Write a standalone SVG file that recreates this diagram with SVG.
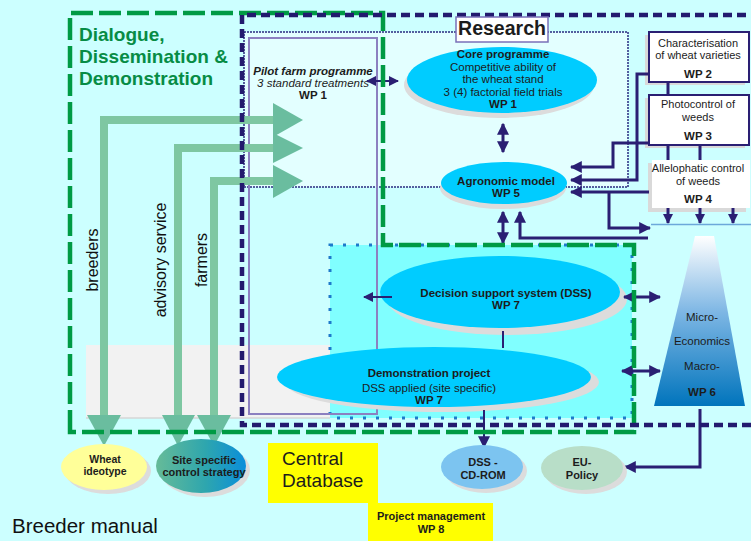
<svg xmlns="http://www.w3.org/2000/svg" width="751" height="541" viewBox="0 0 751 541">
<defs>
<style>
.t{font-family:"Liberation Sans",Arial,sans-serif;fill:#1c1c1c;text-anchor:middle}
.b{font-weight:bold}
.f11{font-size:11.5px}
.f10{font-size:10.5px}
.nv{fill:none;stroke:#2A1F73;stroke-width:3}
.nv2{fill:none;stroke:#2A1F73;stroke-width:2}
.ell{fill:#00CCFF}
.sh{fill:#DCDCDC}
.wp{fill:#FFFFFF;stroke:#2A1F73;stroke-width:2}
.vl{font-family:"Liberation Sans",Arial,sans-serif;font-size:16px;fill:#111;text-anchor:middle}
</style>
<marker id="ah" viewBox="0 0 10 10" refX="9" refY="5" markerWidth="12" markerHeight="12" markerUnits="userSpaceOnUse" orient="auto-start-reverse">
<path d="M0,0 L10,5 L0,10 z" fill="#2A1F73"/>
</marker>
<marker id="ahs" viewBox="0 0 10 10" refX="9" refY="5" markerWidth="10" markerHeight="10" markerUnits="userSpaceOnUse" orient="auto-start-reverse">
<path d="M0,0 L10,5 L0,10 z" fill="#2A1F73"/>
</marker>
<linearGradient id="trap" x1="0" y1="0" x2="0" y2="1">
<stop offset="0" stop-color="#FFFFFF"/>
<stop offset="0.45" stop-color="#7DB6E4"/>
<stop offset="1" stop-color="#0074BC"/>
</linearGradient>
<linearGradient id="site" x1="0" y1="0" x2="1" y2="0">
<stop offset="0" stop-color="#66BB98"/>
<stop offset="0.55" stop-color="#2EA6AE"/>
<stop offset="1" stop-color="#0A8EDB"/>
</linearGradient>
</defs>

<rect x="0" y="0" width="751" height="541" fill="#CCFFFF"/>

<g id="backgrounds">
<rect x="244" y="32" width="384" height="155" fill="#E3FFFF"/>
<rect x="86" y="345" width="244" height="73" fill="#F2F2F2"/>
<line x1="86" y1="418" x2="330" y2="418" stroke="#D6D6D6" stroke-width="1.5"/>
<rect x="330" y="245" width="302" height="173" fill="#80FFFF"/>
<rect x="330" y="245" width="302" height="173" fill="none" stroke="#1E7ACB" stroke-width="3" stroke-dasharray="3 10"/>
<rect x="244" y="32" width="384" height="155" fill="none" stroke="#2A2A80" stroke-width="1.5" stroke-dasharray="2 1"/>
</g>

<g id="pilot-farm">
<rect x="249" y="38" width="128" height="376" fill="none" stroke="#8C80C0" stroke-width="2"/>
</g>

<g id="flow-arrows">
<g fill="none" stroke="#7EC7A2" stroke-width="8">
<path d="M104,416 V120 H276"/>
<path d="M178,416 V148 H276"/>
<path d="M214,416 V181 H276"/>
</g>
<g fill="#6ABD9F">
<polygon points="273,103 303,120 273,137"/>
<polygon points="273,133 303,148 273,163"/>
<polygon points="273,165 303,181 273,198"/>
<polygon points="87,415 121,415 104,446"/>
<polygon points="162,415 195,415 178,446"/>
<polygon points="197,415 231,415 214,446"/>
</g>
<text class="vl" transform="translate(98,260) rotate(-90)">breeders</text>
<text class="vl" transform="translate(166,260) rotate(-90)">advisory service</text>
<text class="vl" transform="translate(207,260) rotate(-90)">farmers</text>
</g>

<g id="pilot-text">
<text class="t f11 b" x="313" y="75" font-style="italic" fill="#333">Pilot farm programme</text>
<text class="t f11" x="313" y="87" font-style="italic" fill="#333">3 standard treatments</text>
<text class="t f11 b" x="313" y="99">WP 1</text>
</g>

<g id="core">
<ellipse class="sh" cx="499" cy="85" rx="95" ry="33"/>
<ellipse class="ell" cx="502" cy="80" rx="95" ry="33"/>
<text class="t f11 b" x="503" y="58">Core programme</text>
<text class="t f11" x="503" y="71">Competitive ability of</text>
<text class="t f11" x="503" y="83">the wheat stand</text>
<text class="t f11" x="503" y="96">3 (4) factorial field trials</text>
<text class="t f11 b" x="503" y="108">WP 1</text>
</g>

<g id="agronomic">
<ellipse class="sh" cx="503" cy="188" rx="63" ry="21"/>
<ellipse class="ell" cx="504" cy="183" rx="63" ry="21"/>
<text class="t f11 b" x="506" y="185">Agronomic model</text>
<text class="t f11 b" x="506" y="197">WP 5</text>
</g>

<g id="dss">
<ellipse class="sh" cx="507" cy="299" rx="120" ry="36"/>
<ellipse class="ell" cx="500" cy="292" rx="120" ry="36"/>
<text class="t f11 b" x="506" y="297">Decision support system (DSS)</text>
<text class="t f11 b" x="506" y="309">WP 7</text>
</g>

<g id="demo">
<ellipse class="sh" cx="442" cy="382" rx="157" ry="30"/>
<ellipse class="ell" cx="434" cy="377" rx="157" ry="30"/>
<text class="t f11 b" x="429" y="377">Demonstration project</text>
<text class="t f11" x="429" y="392">DSS applied (site specific)</text>
<text class="t f11 b" x="429" y="404">WP 7</text>
</g>

<g id="wp2">
<rect x="645" y="35" width="100" height="50" fill="#D9D9D9"/>
<rect class="wp" x="649" y="32" width="100" height="50"/>
<text class="t" font-size="11" x="698" y="47">Characterisation</text>
<text class="t" font-size="11" x="698" y="59">of wheat varieties</text>
<text class="t f11 b" x="698" y="78">WP 2</text>
</g>
<g id="wp3">
<rect x="645" y="98" width="100" height="50" fill="#D9D9D9"/>
<rect class="wp" x="649" y="95" width="100" height="50"/>
<text class="t" font-size="11" x="698" y="108">Photocontrol  of</text>
<text class="t" font-size="11" x="698" y="121">weeds</text>
<text class="t f11 b" x="698" y="140">WP 3</text>
</g>
<g id="wp4">
<rect x="648" y="163" width="98" height="49" fill="#D9D9D9"/>
<rect x="652" y="160" width="98" height="48" fill="#FFFFFF"/>
<text class="t" font-size="11" x="698" y="172">Allelophatic control</text>
<text class="t" font-size="11" x="698" y="185">of  weeds</text>
<text class="t f11 b" x="698" y="203">WP 4</text>
</g>

<g id="wp6">
<polygon points="695,236 714,236 745,406 654,406" fill="url(#trap)"/>
<text class="t f11" x="702" y="321" fill="#1E1E3C">Micro-</text>
<text class="t f11" x="702" y="345" fill="#1E1E3C">Economics</text>
<text class="t f11" x="702" y="370" fill="#1E1E3C">Macro-</text>
<text class="t f11 b" x="702" y="396">WP 6</text>
</g>

<g id="connectors">
<path class="nv" d="M503,124 V152" marker-start="url(#ah)" marker-end="url(#ah)"/>
<path class="nv" d="M503,212 V243" marker-start="url(#ah)" marker-end="url(#ah)"/>
<path class="nv" d="M648,238 H520 V212" marker-end="url(#ah)"/>
<path class="nv" d="M649,143 H613 V167 H571" marker-end="url(#ah)"/>
<path class="nv" d="M649,74 H637 V180 H571" marker-end="url(#ah)"/>
<path class="nv" d="M649,192 H571" marker-end="url(#ah)"/>
<path class="nv" d="M609,192 V228 H650" marker-end="url(#ah)"/>
<path class="nv" d="M668,82 V95 M668,145 V160 M700,145 V160"/>
<path class="nv" d="M668,208 V223" marker-end="url(#ahs)"/>
<path class="nv" d="M700,208 V223" marker-end="url(#ahs)"/>
<path class="nv" d="M733,208 V223" marker-end="url(#ahs)"/>
<line x1="651" y1="224.5" x2="751" y2="224.5" stroke="#6CA8DA" stroke-width="1.5"/>
<path class="nv2" d="M367,81 H398" marker-start="url(#ahs)" marker-end="url(#ahs)"/>
<path class="nv2" d="M392,297 H364" marker-end="url(#ahs)"/>
<path class="nv" d="M624,297 H660" marker-start="url(#ah)" marker-end="url(#ah)"/>
<path class="nv" d="M622,371 H660" marker-start="url(#ah)" marker-end="url(#ah)"/>
<path class="nv2" d="M503,331 V348"/>
<path class="nv2" d="M484,410 V447" marker-end="url(#ah)"/>
<path class="nv" d="M700,409 V467 H625" marker-end="url(#ah)"/>
</g>

<g id="frames">
<path d="M70,432 V13 H383 V245 H634 V432 Z" fill="none" stroke="#009A44" stroke-width="4.5" stroke-dasharray="22 6"/>
<path d="M760,15 H242 V425 H760" fill="none" stroke="#231A6E" stroke-width="4.5" stroke-dasharray="9 5"/>
<text x="79" y="41" font-family="'Liberation Sans',Arial,sans-serif" font-size="19" font-weight="bold" fill="#078C45">Dialogue,</text>
<text x="79" y="63" font-family="'Liberation Sans',Arial,sans-serif" font-size="19" font-weight="bold" fill="#078C45">Dissemination &amp;</text>
<text x="79" y="85" font-family="'Liberation Sans',Arial,sans-serif" font-size="19" font-weight="bold" fill="#078C45">Demonstration</text>
</g>

<g id="research-label">
<rect x="456" y="17" width="92" height="25" fill="#FFFFFF" stroke="#7A70B8" stroke-width="1.5"/>
<text class="t b" x="502" y="35" font-size="19.5" fill="#2B2A7A">Research</text>
</g>

<g id="wheat-ideotype">
<ellipse class="sh" cx="108" cy="471" rx="43" ry="23"/>
<ellipse cx="104" cy="467" rx="43" ry="23" fill="#FFFF99"/>
<text class="t b f10" x="105" y="463">Wheat</text>
<text class="t b f10" x="105" y="475">ideotype</text>
</g>
<g id="site-specific">
<ellipse class="sh" cx="205" cy="470" rx="45" ry="27"/>
<ellipse cx="201" cy="466" rx="45" ry="27" fill="url(#site)"/>
<text class="t b" x="204" y="464" font-size="11">Site specific</text>
<text class="t b" x="204" y="476" font-size="11">control strategy</text>
</g>
<g id="dss-cdrom">
<ellipse class="sh" cx="486" cy="471" rx="41" ry="22"/>
<ellipse cx="482" cy="467" rx="41" ry="22" fill="#7CC4F0"/>
<text class="t b" x="483" y="466" font-size="11">DSS -</text>
<text class="t b" x="483" y="479" font-size="11">CD-ROM</text>
</g>
<g id="eu-policy">
<ellipse class="sh" cx="586" cy="472" rx="41" ry="22"/>
<ellipse cx="582" cy="468" rx="41" ry="22" fill="#B8DEC8"/>
<text class="t b" x="582" y="466" font-size="11">EU-</text>
<text class="t b" x="582" y="479" font-size="11">Policy</text>
</g>

<g id="central-database">
<rect x="268" y="443" width="110" height="60" fill="#FFFF00"/>
<text x="282" y="465" font-family="'Liberation Sans',Arial,sans-serif" font-size="19" fill="#1c1c1c">Central</text>
<text x="282" y="487" font-family="'Liberation Sans',Arial,sans-serif" font-size="19" fill="#1c1c1c">Database</text>
</g>
<g id="project-management">
<rect x="368" y="503" width="125" height="38" fill="#FFFF00"/>
<text class="t b" x="431" y="520" font-size="11">Project management</text>
<text class="t b" x="431" y="533" font-size="11">WP 8</text>
</g>

<text x="12" y="533" font-family="'Liberation Sans',Arial,sans-serif" font-size="20.5" fill="#111">Breeder manual</text>
</svg>
